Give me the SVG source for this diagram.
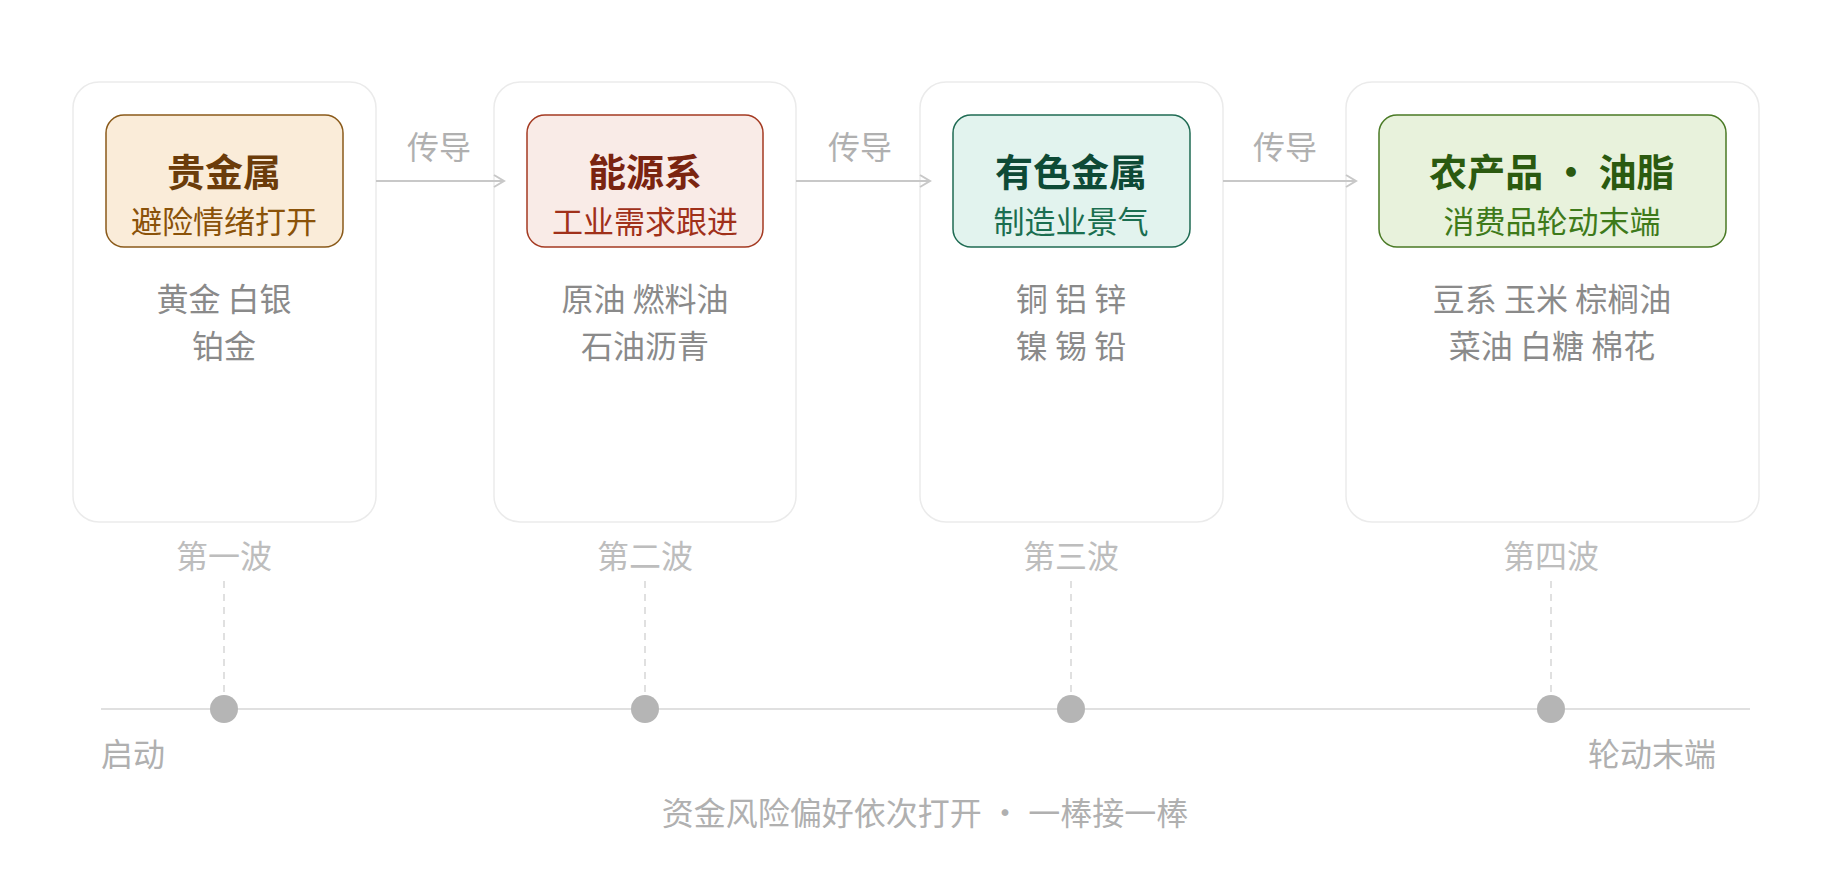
<svg xmlns="http://www.w3.org/2000/svg" width="1847" height="874" viewBox="0 0 1847 874">
<style>
text{font-family:"Noto Sans CJK SC","Noto Sans",sans-serif;text-anchor:middle}
.card{fill:#fff;stroke:#ebebeb;stroke-width:1.5}
.t{font-size:38px;font-weight:700}
.s{font-size:31px}
.it{font-size:32px;fill:#8a8a8a}
.w{font-size:32px;fill:#bdbdbd}
.lab{font-size:32px;fill:#b0b0b0}
.dash{stroke:#d6d6d6;stroke-width:1.5;stroke-dasharray:7 6}
.dot{fill:#b5b5b5}
.conn{stroke:#c8c8c8;stroke-width:2;fill:none;marker-end:url(#ah)}
</style>
<defs>
<marker id="ah" markerWidth="14" markerHeight="14" refX="12" refY="7" orient="auto" markerUnits="userSpaceOnUse">
<path d="M2,1 L12,7 L2,13" fill="none" stroke="#c8c8c8" stroke-width="2"/>
</marker>
</defs>
<rect width="1847" height="874" fill="#fff"/>
<g id="node1">
<rect class="card" x="73" y="82" width="303" height="440" rx="26"/>
<rect x="106" y="115" width="237" height="132" rx="18" fill="#faecd9" stroke="#8a5a1a" stroke-width="1.5"/>
<text class="t" x="224" y="186" fill="#6b3c0a">贵金属</text>
<text class="s" x="224" y="233" fill="#8a5209">避险情绪打开</text>
<text class="it" x="224" y="311">黄金 白银</text>
<text class="it" x="224" y="358">铂金</text>
</g>
<g id="node2">
<rect class="card" x="494" y="82" width="302" height="440" rx="26"/>
<rect x="527" y="115" width="236" height="132" rx="18" fill="#f9ebe7" stroke="#a43a22" stroke-width="1.5"/>
<text class="t" x="645" y="186" fill="#7a2410">能源系</text>
<text class="s" x="645" y="233" fill="#a0301a">工业需求跟进</text>
<text class="it" x="645" y="311">原油 燃料油</text>
<text class="it" x="645" y="358">石油沥青</text>
</g>
<g id="node3">
<rect class="card" x="920" y="82" width="303" height="440" rx="26"/>
<rect x="953" y="115" width="237" height="132" rx="18" fill="#e2f3ee" stroke="#1f6b53" stroke-width="1.5"/>
<text class="t" x="1071" y="186" fill="#0e4a36">有色金属</text>
<text class="s" x="1071" y="233" fill="#1a6e50">制造业景气</text>
<text class="it" x="1071" y="311">铜 铝 锌</text>
<text class="it" x="1071" y="358">镍 锡 铅</text>
</g>
<g id="node4">
<rect class="card" x="1346" y="82" width="413" height="440" rx="26"/>
<rect x="1379" y="115" width="347" height="132" rx="18" fill="#e8f2dc" stroke="#4a7a25" stroke-width="1.5"/>
<text class="t" x="1552" y="186" fill="#2b5a10">农产品 · 油脂</text>
<text class="s" x="1552" y="233" fill="#3e7a1a">消费品轮动末端</text>
<text class="it" x="1552" y="311">豆系 玉米 棕榈油</text>
<text class="it" x="1552" y="358">菜油 白糖 棉花</text>
</g>
<g id="connectors">
<path class="conn" d="M376,181 H504"/>
<path class="conn" d="M796,181 H930"/>
<path class="conn" d="M1223,181 H1356"/>
<text class="lab" x="439" y="159">传导</text>
<text class="lab" x="860" y="159">传导</text>
<text class="lab" x="1285" y="159">传导</text>
</g>
<g id="timeline">
<text class="w" x="224" y="568">第一波</text>
<text class="w" x="645" y="568">第二波</text>
<text class="w" x="1071" y="568">第三波</text>
<text class="w" x="1551" y="568">第四波</text>
<line class="dash" x1="224" y1="581" x2="224" y2="692"/>
<line class="dash" x1="645" y1="581" x2="645" y2="692"/>
<line class="dash" x1="1071" y1="581" x2="1071" y2="692"/>
<line class="dash" x1="1551" y1="581" x2="1551" y2="692"/>
<line x1="101" y1="709" x2="1750" y2="709" stroke="#e0e0e0" stroke-width="2"/>
<circle class="dot" cx="224" cy="709" r="14"/>
<circle class="dot" cx="645" cy="709" r="14"/>
<circle class="dot" cx="1071" cy="709" r="14"/>
<circle class="dot" cx="1551" cy="709" r="14"/>
<text class="lab" x="101" y="766" style="text-anchor:start">启动</text>
<text class="lab" x="1716" y="766" style="text-anchor:end">轮动末端</text>
<text class="lab" x="925" y="825">资金风险偏好依次打开 · 一棒接一棒</text>
</g>
</svg>
